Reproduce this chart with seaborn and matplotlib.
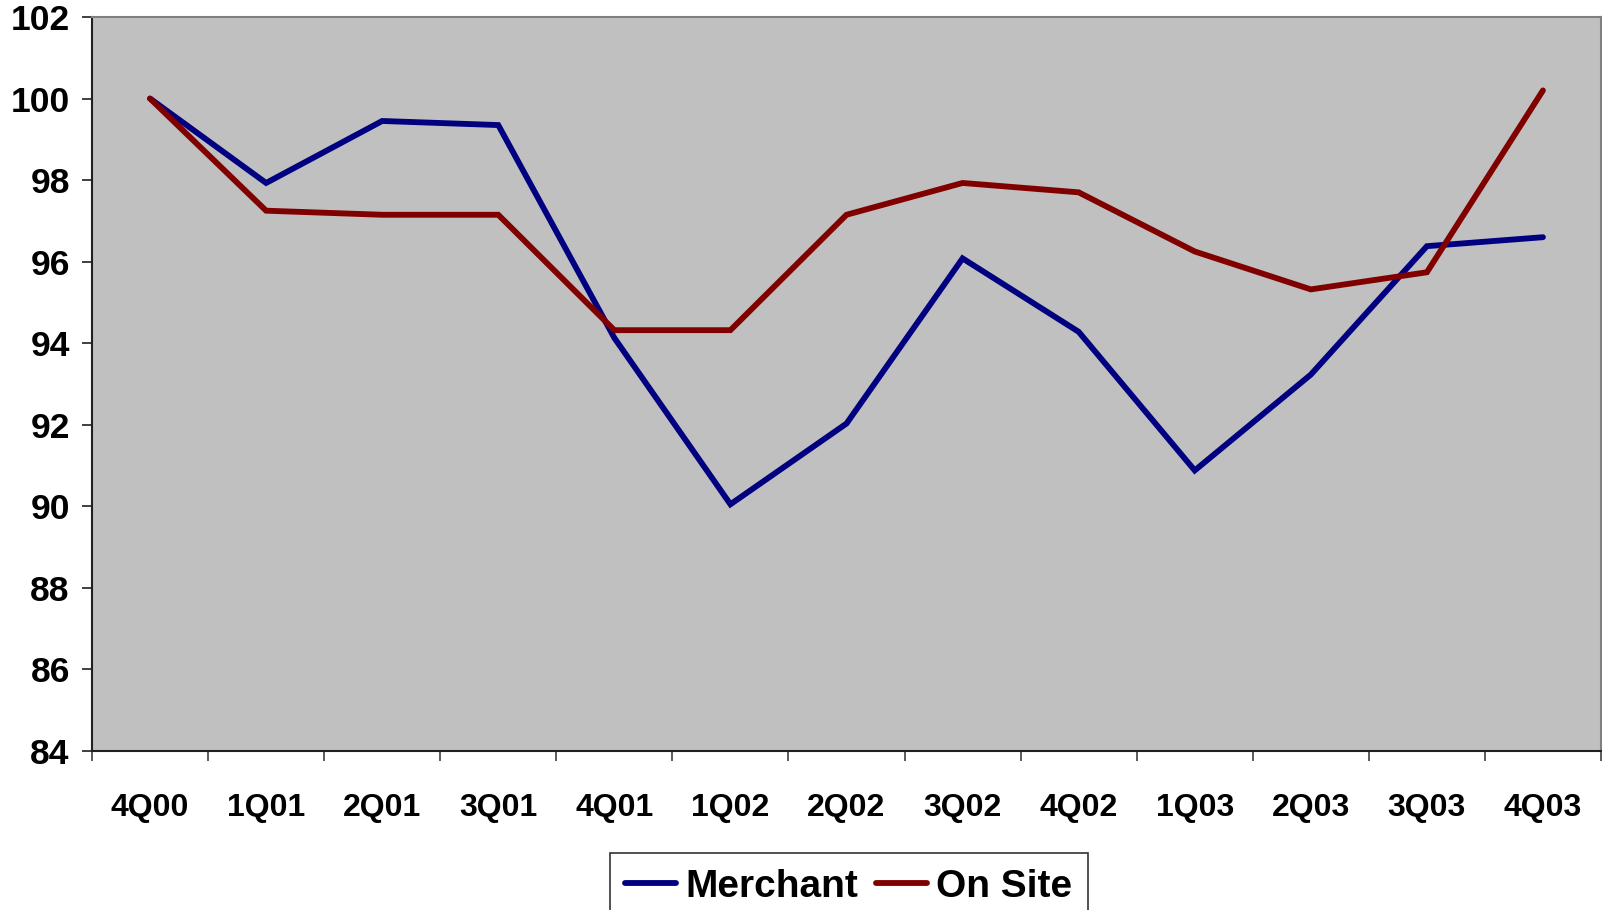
import matplotlib
matplotlib.use("Agg")
import matplotlib.pyplot as plt
import seaborn as sns
import pandas as pd
import numpy as np
from matplotlib.ticker import FixedLocator
from matplotlib.lines import Line2D

quarters = ["4Q00", "1Q01", "2Q01", "3Q01", "4Q01", "1Q02", "2Q02",
            "3Q02", "4Q02", "1Q03", "2Q03", "3Q03", "4Q03"]
merchant = [100.0, 97.93, 99.45, 99.35, 94.13, 90.05, 92.03,
            96.08, 94.28, 90.88, 93.23, 96.38, 96.6]
on_site = [100.0, 97.25, 97.15, 97.15, 94.32, 94.32, 97.15,
           97.93, 97.7, 96.25, 95.32, 95.74, 100.2]
series_names = ["Merchant", "On Site"]
colors = ["#000080", "#800000"]
yticks = [84, 86, 88, 90, 92, 94, 96, 98, 100, 102]

sns.set_theme(style="white")
plt.rcParams['font.family'] = ['Liberation Sans', 'DejaVu Sans']
plt.rcParams['text.color'] = 'black'
plt.rcParams['xtick.color'] = 'black'
plt.rcParams['ytick.color'] = 'black'

df = pd.DataFrame({
    "quarter": quarters * 2,
    "value": merchant + on_site,
    "series": [series_names[0]] * len(quarters) + [series_names[1]] * len(quarters),
})

W, H = 1602, 910
fig = plt.figure(figsize=(W / 100, H / 100), dpi=100)
left, right, top, bottom = 92, 1601, 17, 751
ax = fig.add_axes([left / W, 1 - bottom / H, (right - left) / W, (bottom - top) / H])
ax.set_facecolor("#C0C0C0")

LW = 4.2
sns.lineplot(data=df, x="quarter", y="value", hue="series", palette=colors,
             sort=False, linewidth=LW, ax=ax, legend=False,
             solid_capstyle="round", solid_joinstyle="miter")

ax.set_xlim(-0.5, len(quarters) - 0.5)
ax.set_ylim(84, 102)
ax.set_yticks(yticks)
ax.set_yticklabels([str(t) for t in yticks], fontsize=25.5, fontweight="bold", color="black")
ax.set_xticks(range(len(quarters)))
ax.set_xticklabels(quarters, fontsize=23, fontweight="bold", color="black")
ax.xaxis.set_minor_locator(FixedLocator(np.arange(-0.5, len(quarters), 1.0)))
ax.tick_params(axis="x", which="major", bottom=True, length=0, pad=30)
ax.tick_params(axis="x", which="minor", bottom=True, length=7, width=1.2,
               color="#404040", direction="out")
ax.tick_params(axis="y", which="major", left=True, length=7, width=1.2,
               color="#202020", direction="out", pad=9)
ax.set_xlabel("")
ax.set_ylabel("")
ax.grid(False)

for s in ["left", "bottom"]:
    ax.spines[s].set_color("#202020")
    ax.spines[s].set_linewidth(1.5)
for s in ["top", "right"]:
    ax.spines[s].set_color("#808080")
    ax.spines[s].set_linewidth(1.5)

handles = [Line2D([0], [0], color=c, lw=LW, solid_capstyle="round") for c in colors]
leg = fig.legend(handles, series_names, loc="upper center",
                 bbox_to_anchor=(849 / W, 1 - 853 / H), ncol=2,
                 prop={"size": 28, "weight": "bold"}, frameon=True, fancybox=False,
                 handlelength=1.3, handletextpad=0.25, columnspacing=0.45,
                 borderpad=0.4, borderaxespad=0)
leg.get_frame().set_edgecolor("#000000")
leg.get_frame().set_linewidth(1.2)
for t in leg.get_texts():
    t.set_color("black")

fig.savefig("out.png", dpi=100)
